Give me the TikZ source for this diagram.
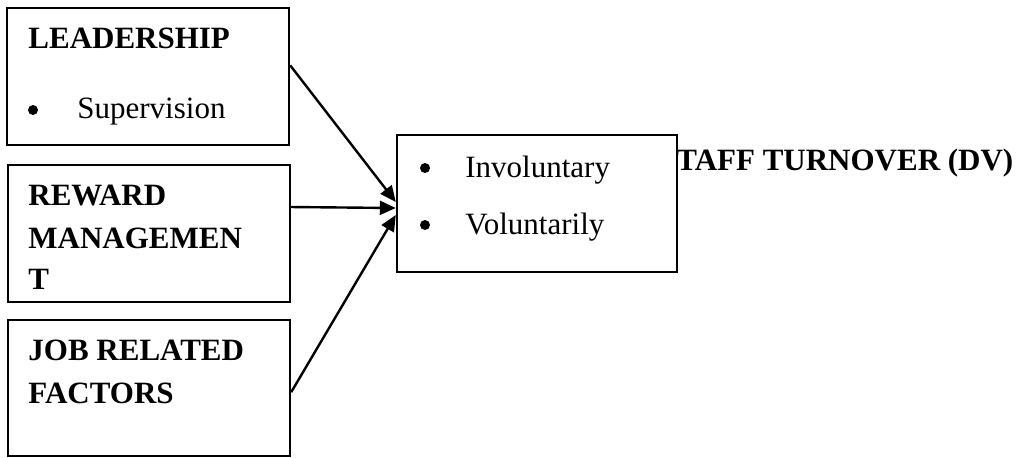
\documentclass[tikz,border=0pt]{standalone}
\usepackage{fontspec}
\setmainfont{Liberation Serif}
\usetikzlibrary{calc,arrows.meta}
\begin{document}
\begin{tikzpicture}[x=0.5pt,y=-0.5pt,font=\fontsize{15.5}{18}\selectfont,
  box/.style={draw,line width=1.2pt,inner sep=0pt,minimum width=141pt,minimum height=68.5pt},
  txt/.style={anchor=base west,inner sep=0pt},
  head/.style={txt,font=\fontsize{15.5}{18}\selectfont\bfseries},
  dot/.style={circle,fill,inner sep=0pt,minimum size=5pt},
  link/.style={line width=1.2pt,-{Triangle[length=8pt,width=7pt]}}]
\useasboundingbox (0,0) rectangle (1024,457);

% left boxes
\node[box] (lead) at (148,76.5) {};
\node[box] (reward) at (149,233.5) {};
\node[box,minimum height=68pt] (job) at (149,388) {};

\node[head] (leadtxt) at (28,48) {LEADERSHIP};
\node[dot] (b1) at (33,110) {};
\node[txt] (sup) at (77,118) {Supervision};

\node[head] (rew1) at (28,205) {REWARD};
\node[head] (rew2) at (28,248) {MANAGEMEN};
\node[head] (rew3) at (28,289) {T};

\node[head] (job1) at (28,360) {JOB RELATED};
\node[head] (job2) at (28,403) {FACTORS};

% dependent variable
\node[head] (dvtxt) at (676,170) {TAFF TURNOVER (DV)};
\node[box,minimum width=140pt,fill=white] (dv) at (537,203.5) {};
\node[dot] (b2) at (425,168) {};
\node[txt] (invol) at (465,177) {Involuntary};
\node[dot] (b3) at (425,225) {};
\node[txt] (vol) at (465,234) {Voluntarily};

% arrows
\coordinate (lead-out) at ($(lead.north east)!0.42!(lead.south east)$);
\coordinate (rew-out) at ($(reward.north east)!0.31!(reward.south east)$);
\coordinate (job-out) at ($(job.north east)!0.53!(job.south east)$);
\draw[link] (lead-out) -- ([yshift=0.75pt]dv.west);
\draw[link] (rew-out) -- ([yshift=-2.25pt]dv.west);
\draw[link] (job-out) -- ([yshift=-5.75pt]dv.west);

\end{tikzpicture}
\end{document}
